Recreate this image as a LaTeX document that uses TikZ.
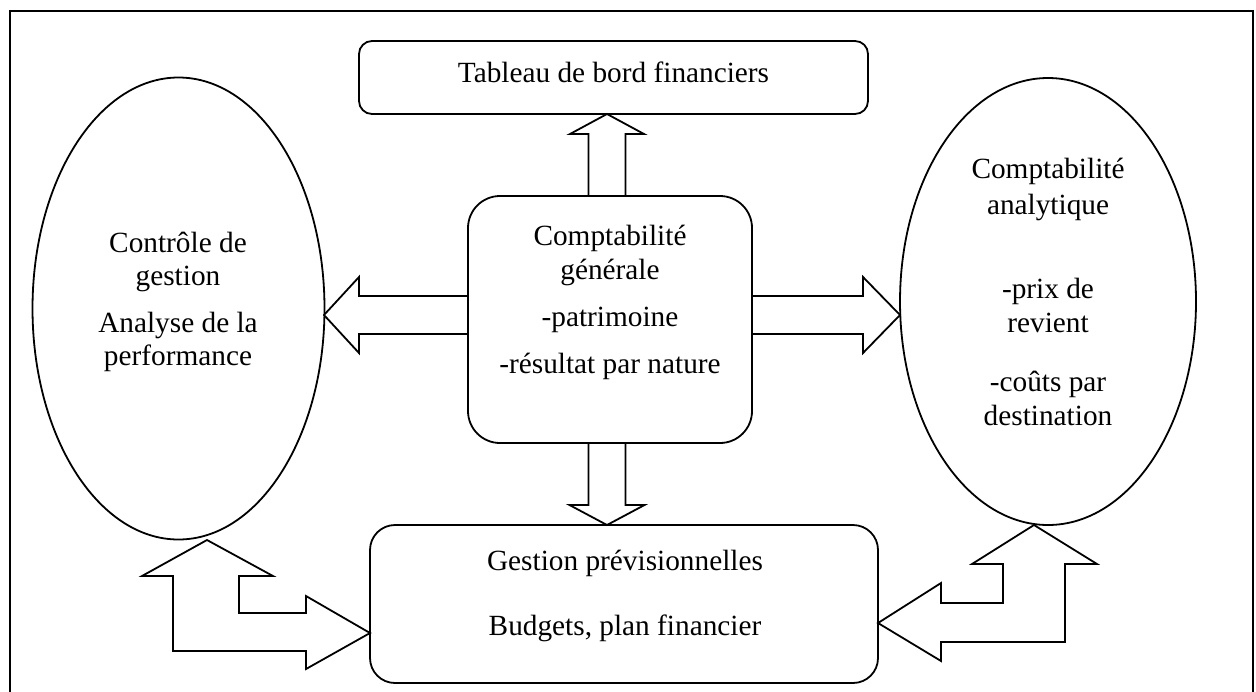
\documentclass[tikz,border=0pt]{standalone}
\usepackage{fontspec}
\setmainfont{Liberation Serif}
\usetikzlibrary{shapes.geometric,calc}

\begin{document}
\begin{tikzpicture}[x=0.5pt,y=-0.5pt,
  line width=0.9pt,
  rbox/.style={draw, rectangle, inner sep=0pt, outer sep=0pt},
  oval/.style={draw, ellipse, inner sep=0pt, outer sep=0pt},
  txt/.style={anchor=base, inner sep=0pt, font=\fontsize{14.65}{17}\selectfont},
  blk/.style={draw, fill=white, line join=miter}
]
\useasboundingbox (0,0) rectangle (1256,691);
% outer frame
\draw[line width=1.2pt] (10,11) rectangle (1253,695);

% boxes
\node[rbox, rounded corners=6.5pt, minimum width=254.5pt, minimum height=36.5pt] (tb) at (613.5,77.5) {};
\node[rbox, rounded corners=16pt, minimum width=142pt, minimum height=123.5pt] (cg) at (610,319.5) {};
\node[rbox, rounded corners=12.5pt, minimum width=254pt, minimum height=79pt] (gp) at (624,604) {};
\node[oval, minimum width=146pt, minimum height=231pt] (cdg) at (178.5,308.5) {};
\node[oval, minimum width=148pt, minimum height=223.5pt] (ca) at (1048,301.5) {};

% texts
\node[txt] (t1) at (613.5,82) {Tableau de bord financiers};

\node[txt] (c1) at (610,245) {Comptabilité};
\node[txt] (c2) at (610,279) {générale};
\node[txt] (c3) at (610,326) {-patrimoine};
\node[txt] (c4) at (610,373) {-résultat par nature};

\node[txt] (l1) at (178,252) {Contrôle de};
\node[txt] (l2) at (178,285) {gestion};
\node[txt] (l3) at (178,332) {Analyse de la};
\node[txt] (l4) at (178,365) {performance};

\node[txt] (r1) at (1048,178) {Comptabilité};
\node[txt] (r2) at (1048,214) {analytique};
\node[txt] (r3) at (1048,298) {-prix de};
\node[txt] (r4) at (1048,332) {revient};
\node[txt] (r5) at (1048,391) {-coûts par};
\node[txt] (r6) at (1048,425) {destination};

\node[txt] (b1) at (625,570) {Gestion prévisionnelles};
\node[txt] (b2) at (625,635) {Budgets, plan financier};

% block arrow: up to the top box
\coordinate (ux) at (607,0);
\path (tb.south -| ux) coordinate (uT) (cg.north -| ux) coordinate (uB);
\draw[blk] (uT) -- ($(uT)+(37,20)$) -- ($(uT)+(18.5,20)$) -- ($(uB)+(18.5,0)$)
  -- ($(uB)+(-18.5,0)$) -- ($(uT)+(-18.5,20)$) -- ($(uT)+(-37,20)$) -- cycle;

% block arrow: down to the bottom box
\path (gp.north -| ux) coordinate (dT) (cg.south -| ux) coordinate (dB);
\draw[blk] (dT) -- ($(dT)+(37.5,-20)$) -- ($(dT)+(18.5,-20)$) -- ($(dB)+(18.5,0)$)
  -- ($(dB)+(-18.5,0)$) -- ($(dT)+(-18.5,-20)$) -- ($(dT)+(-37.5,-20)$) -- cycle;

% block arrow: left to the ellipse
\coordinate (hy) at (0,315);
\coordinate (lT) at (324,315);
\path (cg.west |- hy) coordinate (lB);
\draw[blk] (lT) -- ($(lT)+(35,-38)$) -- ($(lT)+(35,-19)$) -- ($(lB)+(0,-19)$)
  -- ($(lB)+(0,19)$) -- ($(lT)+(35,19)$) -- ($(lT)+(35,38)$) -- cycle;

% block arrow: right to the ellipse
\coordinate (rT) at (900,315);
\path (cg.east |- hy) coordinate (rB);
\draw[blk] (rT) -- ($(rT)+(-37,-38)$) -- ($(rT)+(-37,-19)$) -- ($(rB)+(0,-19)$)
  -- ($(rB)+(0,19)$) -- ($(rT)+(-37,19)$) -- ($(rT)+(-37,38)$) -- cycle;

% bent double arrow, bottom left
\coordinate (bl) at (207,540);
\draw[blk] (bl) -- ++(66,36) -- ++(-34,0) -- ++(0,37) -- ++(67,0) -- ++(0,-17)
  -- (gp.west |- 0,633) -- ($(bl)+(99,129)$) -- ++(0,-18) -- ++(-133,0)
  -- ++(0,-75) -- ++(-31,0) -- cycle;

% bent double arrow, bottom right
\coordinate (br) at (1034,525);
\draw[blk] (br) -- ++(63,39) -- ++(-32,0) -- ++(0,78) -- ++(-124,0) -- ++(0,19)
  -- (gp.east |- 0,623) -- ($(br)+(-93,58)$) -- ++(0,20) -- ++(62,0)
  -- ++(0,-39) -- ++(-31,0) -- cycle;
\end{tikzpicture}
\end{document}
